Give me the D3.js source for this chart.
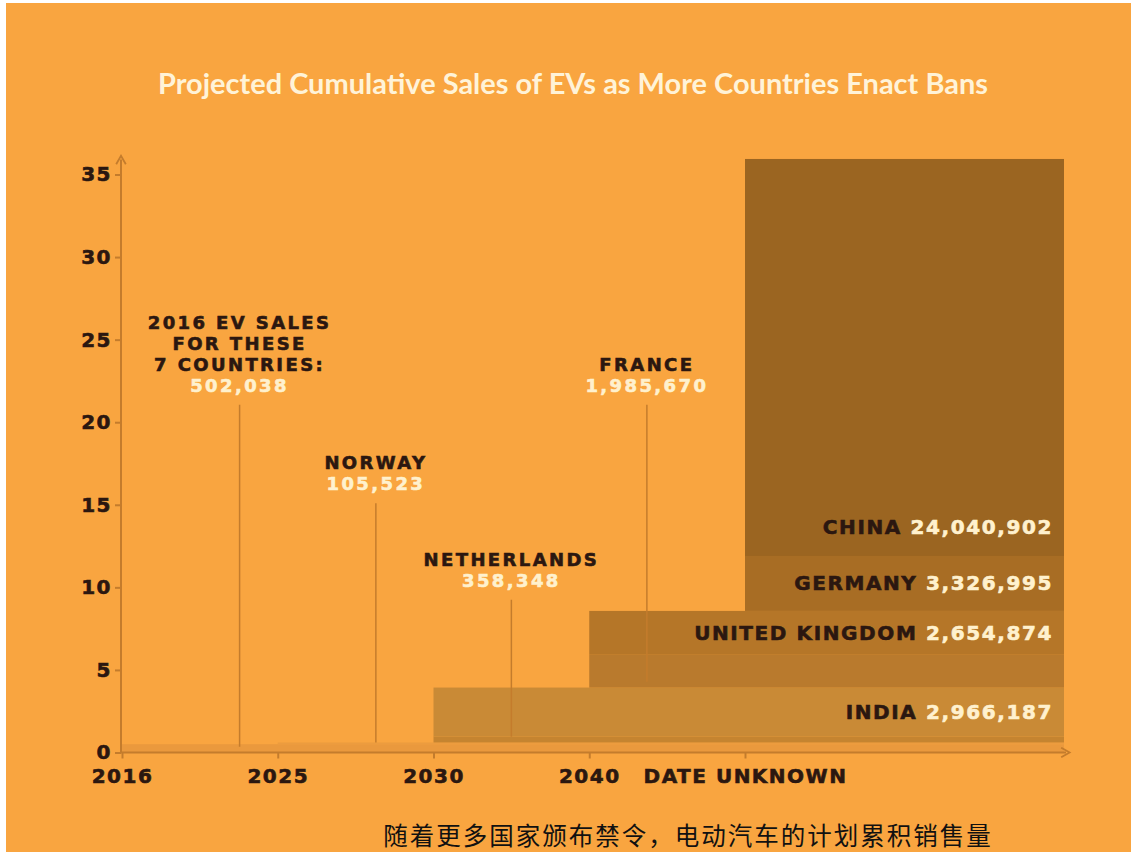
<!DOCTYPE html>
<html>
<head>
<meta charset="utf-8">
<script src="https://cdn.jsdelivr.net/npm/d3@7"></script>
<style>
  html, body { margin: 0; padding: 0; background: #fff; }
  svg { display: block; }
</style>
</head>
<body>
<svg id="chart" width="1131" height="852"></svg>
<script>
// Ban periods shown along the x axis
const periods = ["2016", "2025", "2030", "2040", "DATE UNKNOWN"];
// Countries stacked in the order their bans take effect
const countries = ["2016 EV SALES", "NORWAY", "NETHERLANDS", "INDIA", "FRANCE", "UNITED KINGDOM", "GERMANY", "CHINA"];
const banPeriod = ["2016", "2025", "2030", "2030", "2040", "2040", "DATE UNKNOWN", "DATE UNKNOWN"];
const sales = [502038, 105523, 358348, 2966187, 1985670, 2654874, 3326995, 24040902];
// Y axis ticks, in millions of vehicles
const yTicks = [0, 5, 10, 15, 20, 25, 30, 35];

const title = "Projected Cumulative Sales of EVs as More Countries Enact Bans";
const caption = "随着更多国家颁布禁令，电动汽车的计划累积销售量";

// Drawing styles
const fills = ["#EA993D", "#EC9C3F", "#C58430", "#C98A36", "#B97A2D", "#B57628", "#A86D24", "#9B6521"];
const BG = "#F9A540";
const AXIS = "#C47C2C";
const DARK = "#2B1710";
const CREAM = "#FFF1CE";
const BLOCK_FONT = "'DejaVu Sans', sans-serif";

const W = 1131, H = 852;
const svg = d3.select("#chart");

svg.append("rect").attr("width", W).attr("height", H).attr("fill", "#fff");
svg.append("rect").attr("x", 6).attr("y", 3).attr("width", W - 6).attr("height", H - 3).attr("fill", BG);

// Heavy square lettering used for all chart labels
function block(sel, size, color, spacing) {
  return sel.attr("font-family", BLOCK_FONT).attr("font-weight", 700)
    .attr("font-size", size).attr("letter-spacing", spacing)
    .attr("fill", color).attr("stroke", color).attr("stroke-width", 0.6)
    .attr("paint-order", "stroke");
}

// Scales: the period axis is evenly spaced between its breakpoints
const plot = { left: 121, right: 1064, top: 174.5, bottom: 752.5 };
const x = d3.scalePoint().domain(periods).range([plot.left + 1, 745]);
const step = x.step();
const y = d3.scaleLinear().domain([0, 35]).range([plot.bottom, plot.top]);

// Cumulative stack (millions)
let running = 0;
const layers = countries.map((name, i) => {
  const base = running;
  running += sales[i] / 1e6;
  return { name, period: banPeriod[i], value: sales[i], base, top: running, i };
});

// Stepped stacked blocks
svg.append("g").selectAll("rect").data(layers).join("rect")
  .attr("x", d => x(d.period))
  .attr("width", d => plot.right - x(d.period))
  .attr("y", d => y(d.top))
  .attr("height", d => y(d.base) - y(d.top))
  .attr("fill", d => fills[d.i]);

// Arrow markers for the axes
const defs = svg.append("defs");
defs.append("marker").attr("id", "arrow")
  .attr("viewBox", "0 0 10 10").attr("refX", 5).attr("refY", 5)
  .attr("markerWidth", 6).attr("markerHeight", 6).attr("orient", "auto")
  .append("path").attr("d", "M1,1 L8,5 L1,9").attr("fill", "none")
  .attr("stroke", AXIS).attr("stroke-width", 1.5);

// Y axis
const yAxis = svg.append("g").attr("transform", `translate(${plot.left},0)`)
  .call(d3.axisLeft(y).tickValues(yTicks).tickSize(6).tickPadding(3));
yAxis.select(".domain").remove();
yAxis.selectAll(".tick line").attr("stroke", AXIS).attr("stroke-width", 2);
block(yAxis.selectAll(".tick text"), 20, DARK, 1.5);
svg.append("line")
  .attr("x1", plot.left).attr("x2", plot.left)
  .attr("y1", plot.bottom).attr("y2", y(35) - 15)
  .attr("stroke", AXIS).attr("stroke-width", 2).attr("marker-end", "url(#arrow)");

// X axis
const xAxis = svg.append("g").attr("transform", `translate(0,${plot.bottom})`)
  .call(d3.axisBottom(x).tickSize(6).tickPadding(4));
xAxis.select(".domain").remove();
xAxis.selectAll(".tick line").attr("stroke", AXIS).attr("stroke-width", 2);
block(xAxis.selectAll(".tick text").attr("y", 23).attr("dy", "0.35em"), 20, DARK, 1.5);
svg.append("line")
  .attr("x1", plot.left).attr("x2", plot.right + 2)
  .attr("y1", plot.bottom).attr("y2", plot.bottom)
  .attr("stroke", AXIS).attr("stroke-width", 2).attr("marker-end", "url(#arrow)");

const fmt = d3.format(",");

// Callouts for the smaller markets: leader line and stacked caption
const callouts = [
  { name: "2016 EV SALES", lines: ["2016 EV SALES", "FOR THESE", "7 COUNTRIES:"], frac: 0.755, lineTop: 21.05 },
  { name: "NORWAY", lines: ["NORWAY"], frac: 0.63, lineTop: 15.1 },
  { name: "NETHERLANDS", lines: ["NETHERLANDS"], frac: 0.5, lineTop: 9.25 },
  { name: "FRANCE", lines: ["FRANCE"], frac: 0.37, lineTop: 21.05 }
];
const cg = svg.append("g");
callouts.forEach(c => {
  const d = layers.find(l => l.name === c.name);
  const cx = x(d.period) + c.frac * step;
  const yTop = y(c.lineTop);
  cg.append("line")
    .attr("x1", cx).attr("x2", cx)
    .attr("y1", yTop).attr("y2", y(d.base + Math.min(d.value / 1e6, 0.35)))
    .attr("stroke", AXIS).attr("stroke-width", 1.5);
  const valueY = yTop - 19;
  block(cg.append("text")
    .attr("x", cx).attr("y", valueY).attr("dy", "0.35em")
    .attr("text-anchor", "middle"), 18, CREAM, 2.4)
    .text(fmt(d.value));
  c.lines.slice().reverse().forEach((t, k) => {
    block(cg.append("text")
      .attr("x", cx).attr("y", valueY - 21 * (k + 1)).attr("dy", "0.35em")
      .attr("text-anchor", "middle"), 18, DARK, 2.4)
      .text(t);
  });
});

// In-band labels for the larger markets
const bandNames = ["INDIA", "UNITED KINGDOM", "GERMANY", "CHINA"];
const bg = svg.append("g");
bandNames.forEach(n => {
  const d = layers.find(l => l.name === n);
  const v = d.value / 1e6;
  const t = bg.append("text")
    .attr("x", plot.right - 11)
    .attr("y", y(d.base + Math.min(v / 2, 1.75)))
    .attr("dy", "0.35em").attr("text-anchor", "end")
    .attr("font-family", BLOCK_FONT).attr("font-weight", 700)
    .attr("font-size", 20).attr("letter-spacing", 1.6)
    .attr("stroke-width", 0.6).attr("paint-order", "stroke");
  t.append("tspan").attr("fill", DARK).attr("stroke", DARK).text(n + " ");
  t.append("tspan").attr("fill", CREAM).attr("stroke", CREAM).text(fmt(d.value));
});

// Title
svg.append("text")
  .attr("x", 573).attr("y", 94)
  .attr("text-anchor", "middle")
  .attr("fill", "#FFF3D8")
  .attr("font-family", "Lato, sans-serif").attr("font-weight", 700)
  .attr("font-size", 29)
  .attr("textLength", 830).attr("lengthAdjust", "spacingAndGlyphs")
  .text(title);

// Caption
svg.append("text")
  .attr("x", 688).attr("y", 844.5)
  .attr("text-anchor", "middle")
  .attr("fill", "#111")
  .attr("font-family", "'Noto Sans CJK SC', sans-serif")
  .attr("font-size", 24.5).attr("letter-spacing", 2)
  .text(caption);
</script>
</body>
</html>
